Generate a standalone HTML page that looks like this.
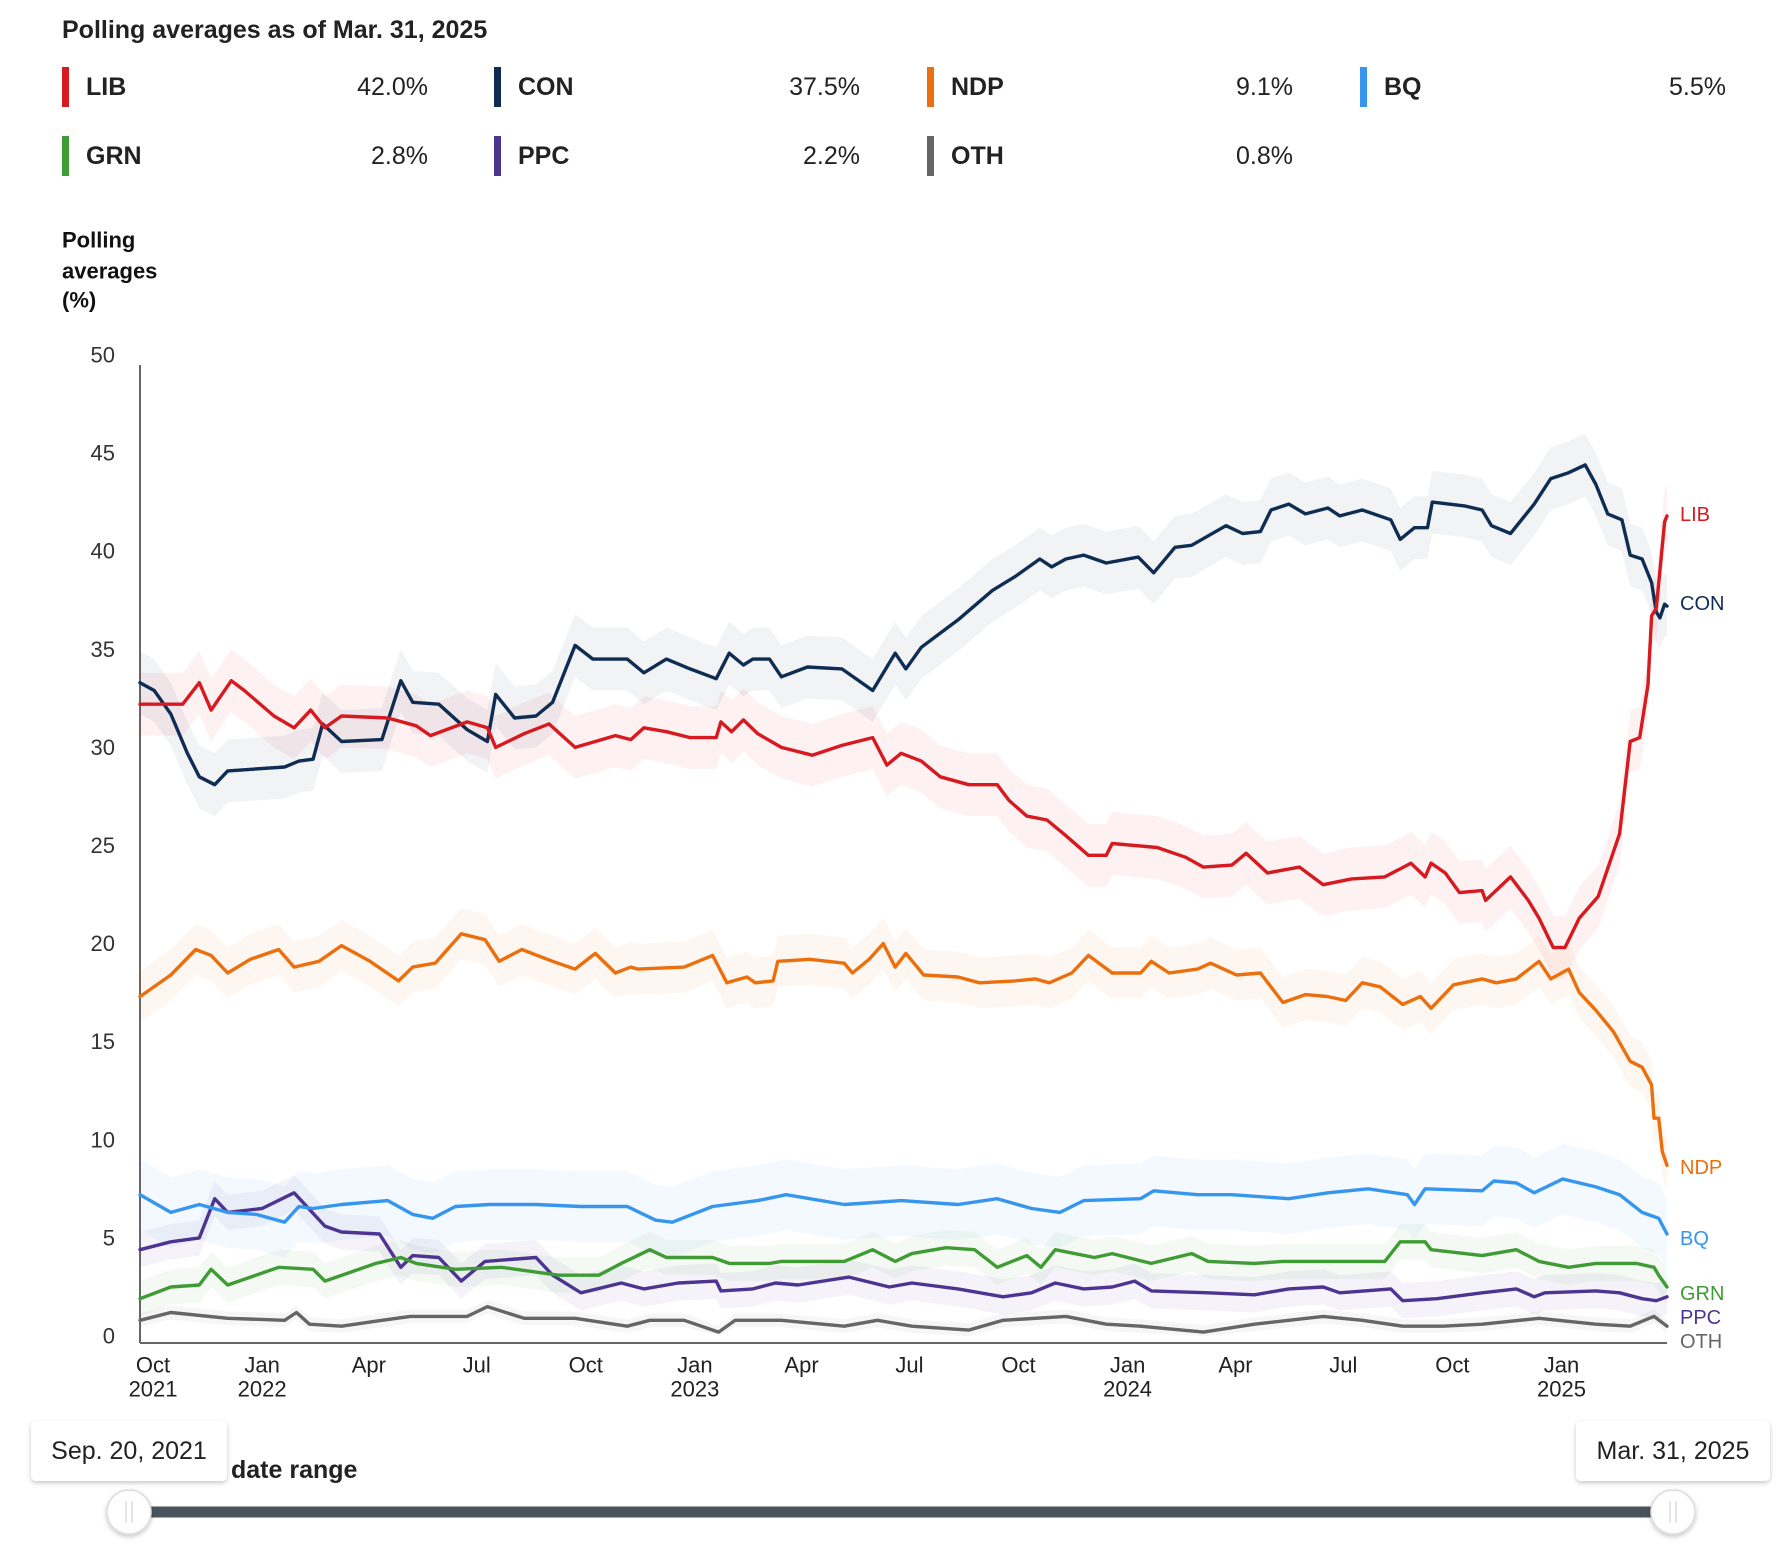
<!DOCTYPE html>
<html><head><meta charset="utf-8">
<style>
body{margin:0;background:#fff;font-family:"Liberation Sans",sans-serif;color:#222;}
#wrap{position:relative;width:1786px;height:1566px;overflow:hidden;}
svg{position:absolute;left:0;top:0;}
</style></head>
<body>
<div id="wrap">
<svg id="chart" width="1786" height="1566"></svg>
</div>
<script>
const parties = ["LIB","CON","NDP","BQ","GRN","PPC","OTH"];
const colors = ["#d71920","#0f2d52","#ec6f0d","#3696ee","#3f9c35","#4e3491","#666666"];
const latest = ["42.0%","37.5%","9.1%","5.5%","2.8%","2.2%","0.8%"];
const bandHalf = [1.6,1.6,1.3,1.8,0.9,0.9,0.35];
const yTicks = [0,5,10,15,20,25,30,35,40,45,50];
const xTickDates = ["2021-10-01","2022-01-01","2022-04-01","2022-07-01","2022-10-01","2023-01-01","2023-04-01","2023-07-01","2023-10-01","2024-01-01","2024-04-01","2024-07-01","2024-10-01","2025-01-01"];
const xTickLabels = [["Oct","2021"],["Jan","2022"],["Apr",""],["Jul",""],["Oct",""],["Jan","2023"],["Apr",""],["Jul",""],["Oct",""],["Jan","2024"],["Apr",""],["Jul",""],["Oct",""],["Jan","2025"]];
const startDate = "2021-09-20", endDate = "2025-03-31";
// days since Sep 20 2021
const libDays = [0,36,50,60,77,88,113,130,144,156,170,209,233,245,276,293,300,324,345,367,401,414,425,444,464,486,490,499,509,521,541,567,592,618,630,642,659,675,699,723,733,748,765,781,800,815,820,858,882,897,921,933,951,978,998,1022,1050,1072,1084,1089,1101,1113,1132,1135,1156,1171,1180,1192,1202,1214,1230,1248,1257,1265,1272,1275,1279,1282,1286,1288];
const libVals = [32.2,32.2,33.3,31.9,33.4,32.9,31.6,31.0,31.9,31.0,31.6,31.5,31.1,30.6,31.3,31.0,30.0,30.7,31.2,30.0,30.6,30.4,31.0,30.8,30.5,30.5,31.3,30.8,31.4,30.7,30.0,29.6,30.1,30.5,29.1,29.7,29.3,28.5,28.1,28.1,27.3,26.5,26.3,25.5,24.5,24.5,25.1,24.9,24.4,23.9,24.0,24.6,23.6,23.9,23.0,23.3,23.4,24.1,23.4,24.1,23.6,22.6,22.7,22.2,23.4,22.2,21.3,19.8,19.8,21.3,22.4,25.6,30.3,30.5,33.2,36.7,37.1,39.0,41.5,41.8];
const conDays = [0,12,26,40,50,63,74,122,134,146,154,170,204,220,230,252,276,293,300,316,334,348,367,382,411,425,444,464,486,497,509,517,531,541,563,592,618,637,646,659,690,719,738,759,769,781,796,815,842,855,873,887,916,930,945,954,969,983,1002,1012,1031,1055,1063,1075,1086,1090,1118,1132,1140,1156,1176,1190,1205,1219,1228,1238,1250,1257,1267,1275,1279,1282,1286,1288];
const conVals = [33.3,32.9,31.7,29.7,28.5,28.1,28.8,29.0,29.3,29.4,31.2,30.3,30.4,33.4,32.3,32.2,30.9,30.3,32.7,31.5,31.6,32.3,35.2,34.5,34.5,33.8,34.5,34.0,33.5,34.8,34.2,34.5,34.5,33.6,34.1,34.0,32.9,34.8,34.0,35.1,36.5,38.0,38.7,39.6,39.2,39.6,39.8,39.4,39.7,38.9,40.2,40.3,41.3,40.9,41.0,42.1,42.4,41.9,42.2,41.8,42.1,41.6,40.6,41.2,41.2,42.5,42.3,42.1,41.3,40.9,42.4,43.7,44.0,44.4,43.4,41.9,41.6,39.8,39.6,38.4,36.9,36.6,37.3,37.2];
const ndpDays = [0,26,47,60,74,93,117,130,151,170,194,218,230,249,271,291,303,322,348,367,384,401,414,420,459,483,495,512,519,534,538,565,594,601,615,627,637,646,661,690,708,738,755,767,786,800,820,844,853,868,892,903,925,945,964,983,1002,1017,1031,1046,1065,1080,1089,1108,1132,1144,1161,1180,1190,1205,1214,1228,1243,1257,1267,1275,1277,1281,1284,1288];
const ndpVals = [17.3,18.4,19.7,19.4,18.5,19.2,19.7,18.8,19.1,19.9,19.1,18.1,18.8,19.0,20.5,20.2,19.1,19.7,19.1,18.7,19.5,18.5,18.8,18.7,18.8,19.4,18.0,18.3,18.0,18.1,19.1,19.2,19.0,18.5,19.2,20.0,18.8,19.5,18.4,18.3,18.0,18.1,18.2,18.0,18.5,19.4,18.5,18.5,19.1,18.5,18.7,19.0,18.4,18.5,17.0,17.4,17.3,17.1,18.0,17.8,16.9,17.3,16.7,17.9,18.2,18.0,18.2,19.1,18.2,18.7,17.5,16.6,15.5,14.0,13.7,12.8,11.1,11.1,9.4,8.7];
const bqDays = [0,26,50,74,98,122,134,146,170,209,230,247,266,295,334,372,411,435,449,483,521,545,594,642,690,723,752,776,796,844,855,892,921,969,1002,1036,1069,1075,1084,1132,1142,1161,1176,1200,1228,1248,1267,1281,1288];
const bqVals = [7.2,6.3,6.7,6.3,6.2,5.8,6.6,6.5,6.7,6.9,6.2,6.0,6.6,6.7,6.7,6.6,6.6,5.9,5.8,6.6,6.9,7.2,6.7,6.9,6.7,7.0,6.5,6.3,6.9,7.0,7.4,7.2,7.2,7.0,7.3,7.5,7.2,6.7,7.5,7.4,7.9,7.8,7.3,8.0,7.6,7.2,6.3,6.0,5.2];
const grnDays = [0,26,50,60,74,117,146,156,199,220,233,266,305,353,387,406,430,444,483,497,531,541,594,618,637,651,680,704,723,748,760,772,805,820,853,887,901,940,964,1002,1050,1063,1084,1089,1132,1161,1180,1205,1228,1262,1277,1281,1288];
const grnVals = [1.9,2.5,2.6,3.4,2.6,3.5,3.4,2.8,3.7,4.0,3.7,3.4,3.5,3.1,3.1,3.7,4.4,4.0,4.0,3.7,3.7,3.8,3.8,4.4,3.8,4.2,4.5,4.4,3.5,4.1,3.5,4.4,4.0,4.2,3.7,4.2,3.8,3.7,3.8,3.8,3.8,4.8,4.8,4.4,4.1,4.4,3.8,3.5,3.7,3.7,3.5,3.1,2.5];
const ppcDays = [0,26,50,63,74,103,130,156,170,202,220,230,252,271,291,334,348,372,406,425,454,486,490,517,536,555,598,632,651,690,728,752,772,796,820,839,853,901,940,969,998,1012,1055,1065,1094,1132,1161,1176,1185,1228,1248,1267,1279,1288];
const ppcVals = [4.4,4.8,5.0,7.0,6.3,6.5,7.3,5.6,5.3,5.2,3.5,4.1,4.0,2.8,3.8,4.0,3.1,2.2,2.7,2.4,2.7,2.8,2.3,2.4,2.7,2.6,3.0,2.5,2.7,2.4,2.0,2.2,2.7,2.4,2.5,2.8,2.3,2.2,2.1,2.4,2.5,2.2,2.4,1.8,1.9,2.2,2.4,2.0,2.2,2.3,2.2,1.9,1.8,2.0];
const othDays = [0,26,74,122,132,143,170,204,228,276,293,324,367,411,430,459,488,502,541,594,622,651,699,728,781,815,844,897,940,998,1031,1065,1099,1132,1180,1228,1257,1277,1288];
const othVals = [0.8,1.2,0.9,0.8,1.2,0.6,0.5,0.8,1.0,1.0,1.5,0.9,0.9,0.5,0.8,0.8,0.2,0.8,0.8,0.5,0.8,0.5,0.3,0.8,1.0,0.6,0.5,0.2,0.6,1.0,0.8,0.5,0.5,0.6,0.9,0.6,0.5,1.0,0.5];
const seriesDays = [libDays,conDays,ndpDays,bqDays,grnDays,ppcDays,othDays];
const seriesVals = [libVals,conVals,ndpVals,bqVals,grnVals,ppcVals,othVals];

const NS="http://www.w3.org/2000/svg";
const svg=document.getElementById('chart');
function mk(tag,attrs,parent){const e=document.createElementNS(NS,tag);for(const k in attrs)e.setAttribute(k,attrs[k]);(parent||svg).appendChild(e);return e;}
const X0=140, X1=1667, Y0=1336, Y50=355;
const dayMs=86400000;
const t0=Date.parse(startDate), totalDays=(Date.parse(endDate)-t0)/dayMs;
function xs(d){return X0+(X1-X0)*d/totalDays;}
function ys(v){return Y0+(Y50-Y0)*v/50;}
function txt(s,x,y,size,weight,fill,anchor,parent){const t=mk('text',{x:x,y:y,'font-size':size,'font-weight':weight,fill:fill,'text-anchor':anchor||'start','dominant-baseline':'central','font-family':'"Liberation Sans",sans-serif'},parent);t.textContent=s;return t;}

// header
const title=txt("Polling averages as of Mar. 31, 2025",62,30,25,'bold','#222');


const colX=[62,494,927,1360];
parties.forEach((p,i)=>{
  const col=i%4,row=Math.floor(i/4);
  const cx=colX[col], cy=row===0?87:156;
  const g=mk('g',{});
  
  
  mk('rect',{x:cx,y:cy-20,width:7,height:40,fill:colors[i]},g);
  txt(p,cx+24,cy,25,'bold','#222','start',g);
  txt(latest[i],cx+366,cy,25,'normal','#222','end',g);
});
// y title
const yt=mk('g',{});


txt("Polling",62,240,22,'bold','#111','start',yt);
txt("averages",62,271,22,'bold','#111','start',yt);
txt("(%)",62,300,22,'bold','#111','start',yt);

// axes
const ax=mk('line',{x1:X0,y1:365,x2:X0,y2:1343,stroke:'#666','stroke-width':2});


const bx=mk('line',{x1:X0,y1:1343,x2:X1,y2:1343,stroke:'#666','stroke-width':2});


yTicks.forEach(v=>{
  const t=txt(String(v),115,ys(v),22,'normal','#333','end');
  
  
});
xTickDates.forEach((ds,i)=>{
  const d=(Date.parse(ds)-t0)/dayMs, x=xs(d);
  const t=txt(xTickLabels[i][0],x,1365,22,'normal','#222','middle');
  
  
  if(xTickLabels[i][1]){const t2=txt(xTickLabels[i][1],x,1389,22,'normal','#222','middle');
    
    }
});

// bands
seriesDays.forEach((days,i)=>{
  const vals=seriesVals[i],h=bandHalf[i];
  let up=days.map((d,j)=>xs(d)+','+ys(vals[j]+h));
  let dn=days.map((d,j)=>xs(d)+','+ys(Math.max(0,vals[j]-h))).reverse();
  const b=mk('polygon',{points:up.concat(dn).join(' '),fill:colors[i],'fill-opacity':0.06,stroke:'none'});
  
  
});
// lines (draw in reverse so LIB on top)
const endLabelY=[515,604,1168,1239,1294,1318,1342];
for(let i=seriesDays.length-1;i>=0;i--){
  const days=seriesDays[i],vals=seriesVals[i];
  const pts=days.map((d,j)=>xs(d).toFixed(1)+','+ys(vals[j]).toFixed(1)).join(' ');
  const l=mk('polyline',{points:pts,fill:'none',stroke:colors[i],'stroke-width':3.4,'stroke-linejoin':'round','stroke-linecap':'round'});
  
  
  const lab=txt(parties[i],1680,endLabelY[i],20,'normal',colors[i],'start');
  
  
}

// slider
const defs=mk('defs',{});
const f=mk('filter',{id:'sh',x:'-20%',y:'-20%',width:'140%',height:'160%'},defs);
mk('feDropShadow',{dx:0,dy:2,stdDeviation:2.5,'flood-color':'#000','flood-opacity':0.22},f);
const tr=mk('line',{x1:129,y1:1512,x2:1673,y2:1512,stroke:'#4a525a','stroke-width':11});


const dr=txt("date range",231,1470,25,'bold','#222');


[[129,31,227,"Sep. 20, 2021","start"],[1673,1576,1770,"Mar. 31, 2025","end"]].forEach(([hx,bx0,bx1,s,nm])=>{
  const h=mk('g',{});
  
  
  mk('circle',{cx:hx,cy:1512,r:22,fill:'#fff',stroke:'#ddd','stroke-width':1.5,filter:'url(#sh)'},h);
  mk('line',{x1:hx-3,y1:1501,x2:hx-3,y2:1523,stroke:'#ddd','stroke-width':1.5},h);
  mk('line',{x1:hx+3,y1:1501,x2:hx+3,y2:1523,stroke:'#ddd','stroke-width':1.5},h);
  const b=mk('g',{});
  
  
  mk('rect',{x:bx0,y:1421,width:bx1-bx0,height:60,rx:5,fill:'#fff',filter:'url(#sh)'},b);
  txt(s,(bx0+bx1)/2,1451,25,'normal','#222','middle',b);
});
</script>
</body></html>
